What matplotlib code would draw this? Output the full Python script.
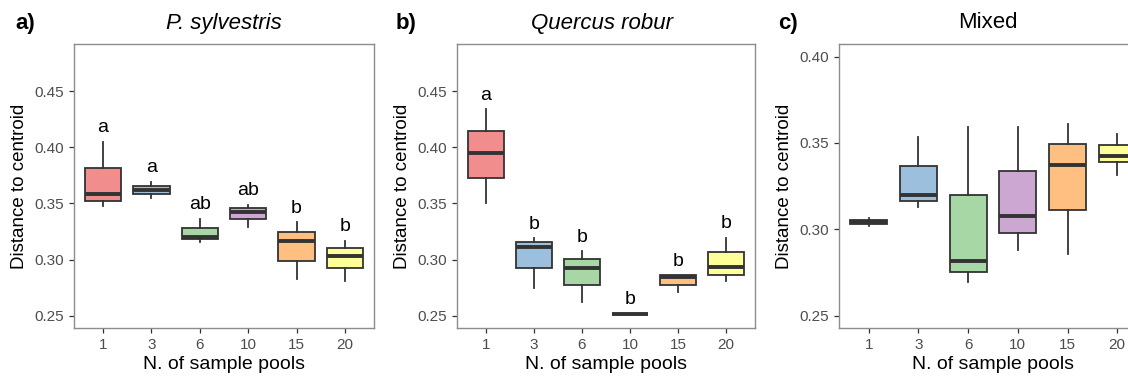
import matplotlib
matplotlib.use("Agg")
import matplotlib.pyplot as plt
import numpy as np

plt.rcParams['font.family'] = ['Liberation Sans', 'DejaVu Sans']

pools = ["1", "3", "6", "10", "15", "20"]
fills = ["#F28D8E", "#9BBFDD", "#A6D7A5", "#CCA7D1", "#FFBF80", "#FFFF99"]

# box stats per panel: whisker low, q1, median, q3, whisker high
pine_lo = [0.3478, 0.3546, 0.3160, 0.3294, 0.2826, 0.2811]
pine_q1 = [0.3522, 0.3581, 0.3181, 0.3359, 0.2989, 0.2921]
pine_med = [0.3584, 0.3620, 0.3205, 0.3427, 0.3161, 0.3033]
pine_q3 = [0.3816, 0.3656, 0.3285, 0.3463, 0.3241, 0.3101]
pine_hi = [0.4050, 0.3694, 0.3362, 0.3490, 0.3330, 0.3167]
pine_letters = ["a", "a", "ab", "ab", "b", "b"]

oak_lo = [0.3507, 0.2746, 0.2619, 0.2511, 0.2710, 0.2811]
oak_q1 = [0.3730, 0.2924, 0.2770, 0.2512, 0.2776, 0.2864]
oak_med = [0.3946, 0.3116, 0.2924, 0.2515, 0.2841, 0.2930]
oak_q3 = [0.4147, 0.3155, 0.3004, 0.2518, 0.2859, 0.3066]
oak_hi = [0.4337, 0.3190, 0.3072, 0.2519, 0.2859, 0.3196]
oak_letters = ["a", "b", "b", "b", "b", "b"]

mix_lo = [0.3020, 0.3132, 0.2695, 0.2882, 0.2857, 0.3313]
mix_q1 = [0.3030, 0.3163, 0.2753, 0.2978, 0.3113, 0.3391]
mix_med = [0.3042, 0.3200, 0.2814, 0.3075, 0.3373, 0.3422]
mix_q3 = [0.3055, 0.3364, 0.3200, 0.3335, 0.3493, 0.3489]
mix_hi = [0.3065, 0.3533, 0.3591, 0.3591, 0.3611, 0.3553]


def draw_panel(ax, lo, q1, med, q3, hi, letters, ylim, yticks):
    stats = []
    for i in range(len(pools)):
        stats.append({"whislo": lo[i], "q1": q1[i], "med": med[i],
                      "q3": q3[i], "whishi": hi[i], "fliers": []})
    pos = np.arange(1, len(pools) + 1)
    bp = ax.bxp(stats, positions=pos, widths=0.75, patch_artist=True,
                showcaps=False, showfliers=False,
                boxprops=dict(edgecolor="#333333", linewidth=1.3),
                whiskerprops=dict(color="#333333", linewidth=1.3),
                medianprops=dict(color="#333333", linewidth=2.8,
                                 solid_capstyle="butt"))
    for patch, c in zip(bp["boxes"], fills):
        patch.set_facecolor(c)
    if letters:
        for x, y, t in zip(pos, hi, letters):
            ax.annotate(t, (x, y), xytext=(0, 4), textcoords="offset points",
                        ha="center", va="bottom", fontsize=14, color="black")
    ax.set_xlim(0.4, 6.6)
    ax.set_ylim(*ylim)
    ax.set_yticks(yticks)
    ax.set_yticklabels([f"{v:.2f}" for v in yticks])
    ax.set_xticks(pos)
    ax.set_xticklabels(pools)
    ax.tick_params(colors="#333333", labelcolor="#4D4D4D", labelsize=11,
                   length=3.5, width=0.9)
    for s in ax.spines.values():
        s.set_color("#8C8C8C")
        s.set_linewidth(1.0)
    ax.set_xlabel("N. of sample pools", fontsize=14, labelpad=3)
    ax.set_ylabel("Distance to centroid", fontsize=13.5, labelpad=5)


fig = plt.figure(figsize=(11.28, 3.76), dpi=100)
W, H = 1128, 376
ax1 = fig.add_axes([74 / W, 1 - 328 / H, 300 / W, 284 / H])
ax2 = fig.add_axes([457 / W, 1 - 328 / H, 298 / W, 284 / H])
ax3 = fig.add_axes([839 / W, 1 - 328 / H, 308 / W, 284 / H])

ab_ticks = [0.25, 0.30, 0.35, 0.40, 0.45]
draw_panel(ax1, pine_lo, pine_q1, pine_med, pine_q3, pine_hi, pine_letters,
           (0.239, 0.492), ab_ticks)
draw_panel(ax2, oak_lo, oak_q1, oak_med, oak_q3, oak_hi, oak_letters,
           (0.239, 0.492), ab_ticks)
draw_panel(ax3, mix_lo, mix_q1, mix_med, mix_q3, mix_hi, None,
           (0.2429, 0.4073), [0.25, 0.30, 0.35, 0.40])

ty = 1 - 23 / H
fig.text(25 / W, ty, "a)", fontsize=16, fontweight="bold", ha="center", va="center")
fig.text(224 / W, ty, "P. sylvestris", fontsize=16, style="italic", ha="center", va="center")
fig.text(406 / W, ty, "b)", fontsize=16, fontweight="bold", ha="center", va="center")
fig.text(602 / W, ty, "Quercus robur", fontsize=16, style="italic", ha="center", va="center")
fig.text(788 / W, ty, "c)", fontsize=16, fontweight="bold", ha="center", va="center")
fig.text(988 / W, ty, "Mixed", fontsize=16, ha="center", va="center")

fig.savefig("out.png", dpi=100)
